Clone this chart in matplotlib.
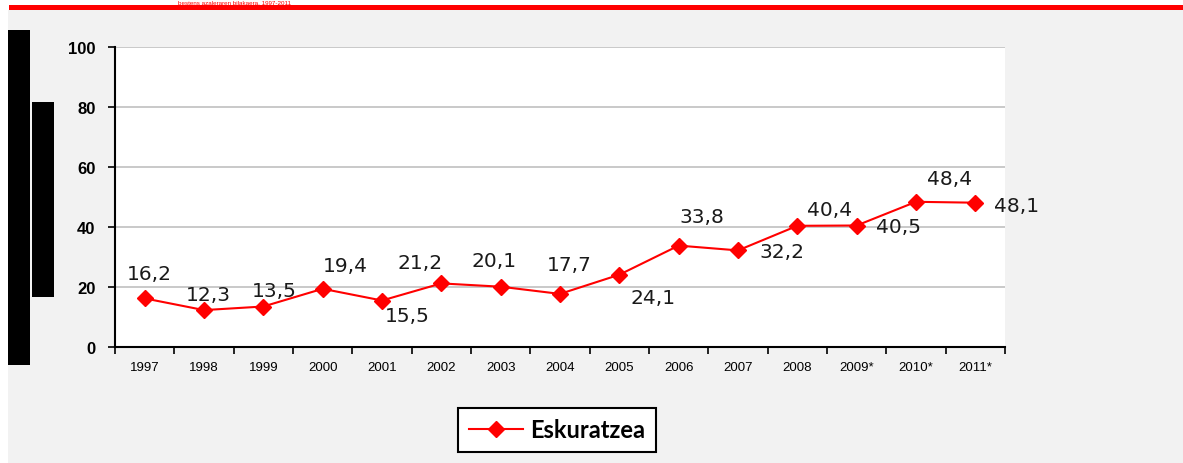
import matplotlib.pyplot as plt
from matplotlib.patches import Rectangle

years = ['1997', '1998', '1999', '2000', '2001', '2002', '2003', '2004',
         '2005', '2006', '2007', '2008', '2009*', '2010*', '2011*']
values = [16.2, 12.3, 13.5, 19.4, 15.5, 21.2, 20.1, 17.7,
          24.1, 33.8, 32.2, 40.4, 40.5, 48.4, 48.1]
series_name = 'Eskuratzea'
title = 'bestens azaleraren bilakaera, 1997-2011'

# label offsets in points (dx, dy)
label_offsets = [(3, 18), (3, 11.5), (8, 11.5), (16, 17), (18, -11), (-15, 15), (-4.5, 19),
                 (6.5, 21), (24.5, -16.5), (16.5, 21), (31.5, -0.5), (23, 11.5), (30, -1),
                 (24, 17), (29.5, -2)]

W, H = 1183, 464
fig = plt.figure(figsize=(W / 100, H / 100), dpi=100)
fig.patch.set_facecolor('white')

# grey background panel and red header bar
fig.patches.append(Rectangle((8 / W, 0), 1 - 8 / W, 1 - 11 / H, transform=fig.transFigure,
                             facecolor='#f2f2f2', edgecolor='none', zorder=-5))
fig.patches.append(Rectangle((9 / W, 1 - 11 / H), 1 - 9 / W, 5 / H, transform=fig.transFigure,
                             facecolor='#ff0000', edgecolor='none', zorder=-4))
fig.text(178 / W, 1 - 5.5 / H, title, color='#ff0000',
         fontsize=4.5, va='bottom', ha='left', family='Liberation Sans')

# black bars on the left
fig.patches.append(Rectangle((8 / W, 1 - 366 / H), 22 / W, 335 / H, transform=fig.transFigure,
                             facecolor='black', edgecolor='none', zorder=-3))
fig.patches.append(Rectangle((32 / W, 1 - 298 / H), 22 / W, 195 / H, transform=fig.transFigure,
                             facecolor='black', edgecolor='none', zorder=-3))

ax = fig.add_axes([115 / W, 1 - 348 / H, 890 / W, 300 / H])
ax.set_zorder(2)
ax.set_facecolor('white')
x = list(range(len(years)))
line, = ax.plot(x, values, color='#ff0000', lw=1.5, marker='D', ms=8,
                markerfacecolor='#ff0000', markeredgecolor='#ff0000', label=series_name,
                clip_on=False)

for xi, v, (dx, dy) in zip(x, values, label_offsets):
    ax.annotate(f'{v:.1f}'.replace('.', ','), (xi, v), xytext=(dx, dy),
                textcoords='offset points', ha='center', va='center',
                fontsize=14.5, color='#1a1a1a', family='DejaVu Sans', annotation_clip=False)

ax.set_xlim(-0.5, len(years) - 0.5)
ax.set_ylim(0, 100)
ax.set_yticks([0, 20, 40, 60, 80, 100])
ax.set_yticklabels(['0', '20', '40', '60', '80', '100'], fontsize=12, fontweight='bold',
                   family='Liberation Sans')
ax.set_xticks([i - 0.5 for i in range(len(years) + 1)], minor=False)
ax.set_xticklabels([])
ax.set_xticks(x, minor=True)
ax.set_xticklabels(years, minor=True, fontsize=9.5, family='Liberation Sans')
ax.tick_params(axis='x', which='minor', length=0, pad=10)
ax.tick_params(axis='x', which='major', length=5, width=1.2, direction='out')
ax.tick_params(axis='y', length=5, width=1.2, direction='out', pad=9)
ax.grid(axis='y', color='#c0c0c0', lw=1.2)
ax.set_axisbelow(True)
for s in ['top', 'right']:
    ax.spines[s].set_visible(False)
for s in ['left', 'bottom']:
    ax.spines[s].set_linewidth(1.5)

leg = fig.legend(handles=[line], loc='center', bbox_to_anchor=(557 / W, 1 - 431 / H),
                 frameon=True, fancybox=False, handlelength=2.3, handletextpad=0.3,
                 borderpad=0.45, borderaxespad=0,
                 prop={'family': 'Lato', 'weight': 'bold', 'size': 17})
leg.get_frame().set_edgecolor('black')
leg.get_frame().set_linewidth(1.5)
leg.get_frame().set_alpha(1)

fig.savefig('out.png', dpi=100, facecolor=fig.get_facecolor())
